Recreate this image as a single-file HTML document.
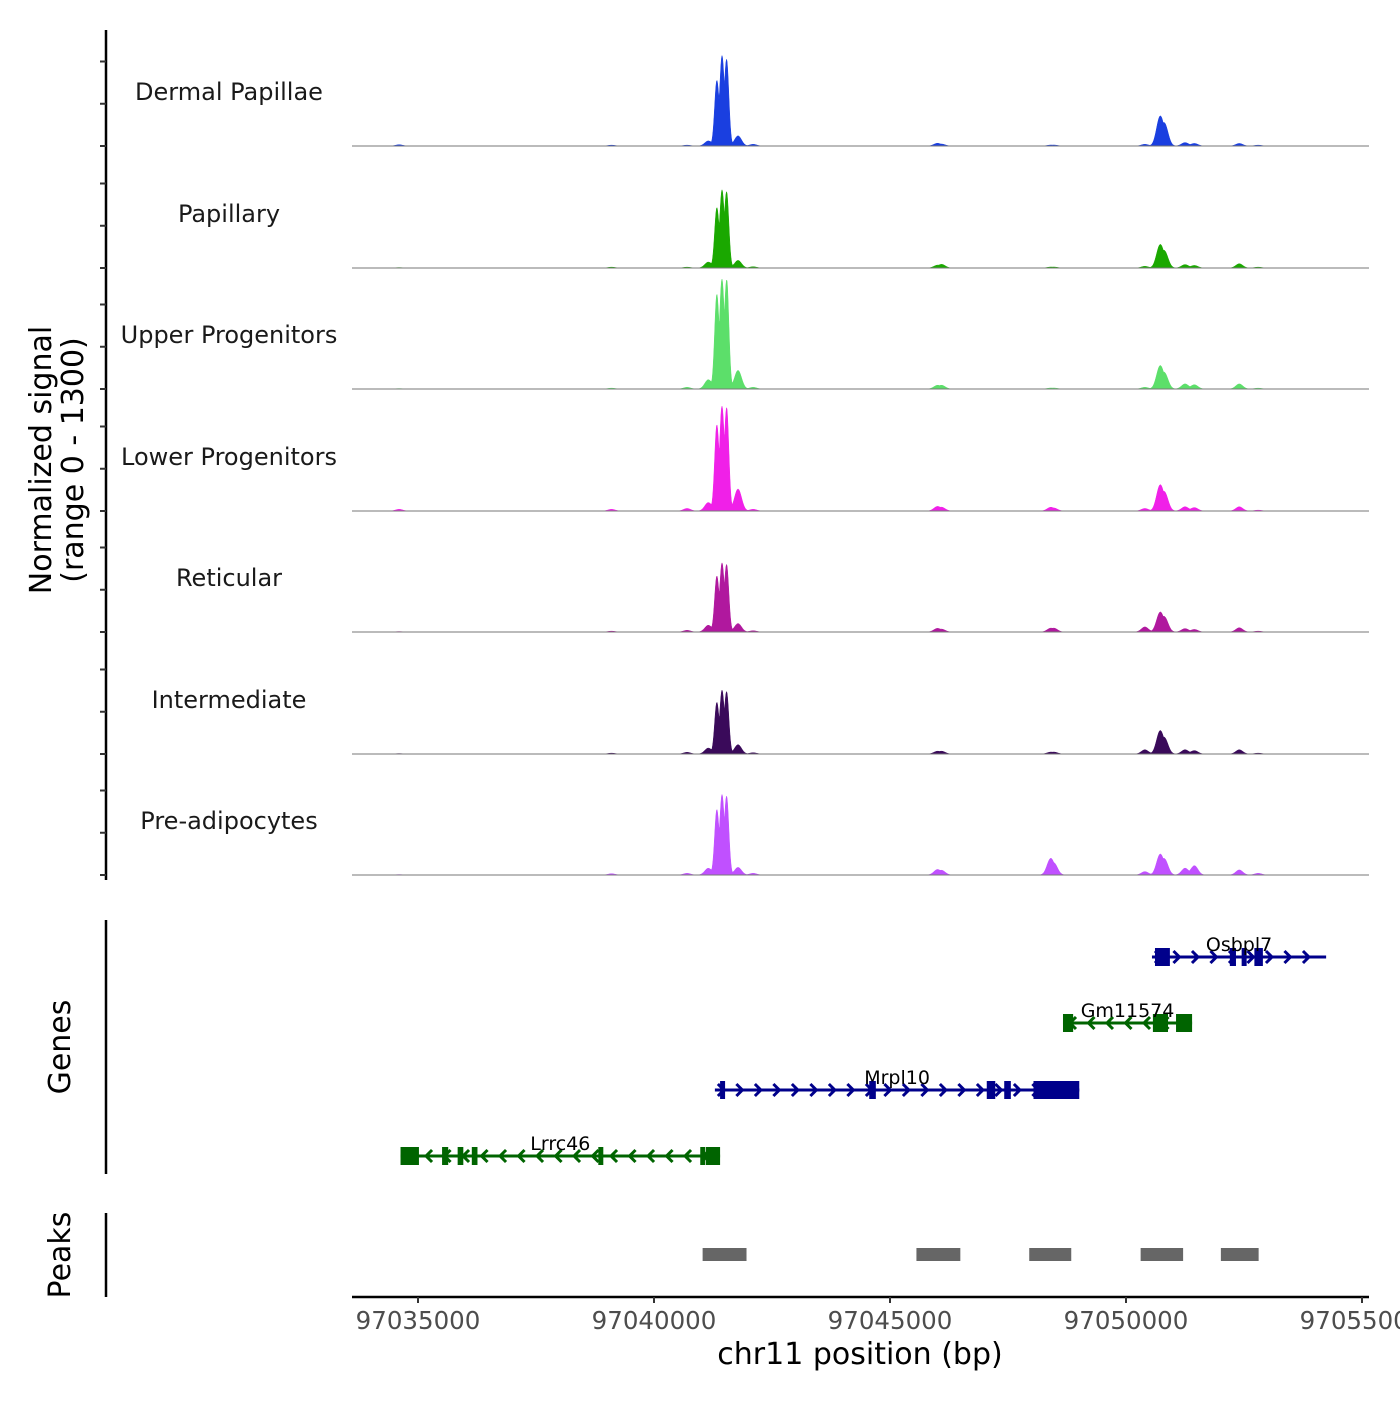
<!DOCTYPE html>
<html><head><meta charset="utf-8"><style>
html,body{margin:0;padding:0;background:#fff}
svg text{font-family:"DejaVu Sans","Liberation Sans",sans-serif}
</style></head><body>
<svg id="chart" width="1400" height="1400" xmlns="http://www.w3.org/2000/svg"></svg>
<script>
// ---- data ----
const trackNames = ["Dermal Papillae","Papillary","Upper Progenitors","Lower Progenitors","Reticular","Intermediate","Pre-adipocytes"];
const trackColors = ["#1a3fe0","#1aa800","#5cdf6a","#f020e8","#b0189e","#3a0a5a","#c050ff"];
// peak centers (bp) shared by all tracks
const peakCenters = [97034600,97039100,97040700,97041150,97041330,97041440,97041540,97041780,97042100,97046000,97046100,97048400,97048480,97050400,97050720,97050820,97051250,97051450,97052400,97052800];
// per-track peak heights (signal units, 0-1300)
const dermalHeights   = [15,10,10,60,760,1035,1000,120,20,30,20,10,10,20,330,240,40,30,30,10];
const papillaryHeights= [5,10,10,70,700,894,880,90,15,30,40,10,10,20,260,180,40,30,50,10];
const upperHeights    = [5,10,20,110,1100,1300,1290,220,20,40,40,10,10,20,260,170,60,50,60,10];
const lowerHeights    = [20,20,30,100,1000,1220,1200,260,20,50,40,40,30,30,290,200,50,40,50,10];
const reticularHeights= [5,10,20,80,650,790,780,100,15,40,30,40,40,60,220,160,40,30,50,10];
const intermedHeights = [5,10,20,70,600,730,720,110,15,30,30,20,20,50,260,170,50,40,50,10];
const preadipHeights  = [5,15,20,80,760,920,910,90,20,60,50,180,120,40,230,170,80,110,60,20];
const trackHeights = [dermalHeights,papillaryHeights,upperHeights,lowerHeights,reticularHeights,intermedHeights,preadipHeights];
const xTicks = [97035000,97040000,97045000,97050000,97055000];
// genes
const geneNames = ["Osbpl7","Gm11574","Mrpl10","Lrrc46"];
const geneStarts = [97050550,97048665,97041290,97034630];
const geneEnds = [97054240,97051400,97049010,97041400];
const geneStrands = [1,-1,1,-1];
const geneColors = ["#00008b","#006400","#00008b","#006400"];
const geneExons = [
 [[97050614,97050930],[97052200,97052330],[97052450,97052550],[97052720,97052900]],
 [[97048665,97048880],[97050570,97050890],[97051060,97051400]],
 [[97041400,97041480],[97044560,97044700],[97047050,97047230],[97047420,97047560],[97048040,97049010]],
 [[97034630,97035020],[97035510,97035640],[97035840,97035960],[97036140,97036260],[97038820,97038920],[97040980,97041080],[97041100,97041400]]
];
const peakRegionStarts = [97041030,97045560,97047950,97050310,97052010];
const peakRegionEnds   = [97041960,97046490,97048840,97051210,97052810];

// ---- scales ----
const X0=352, X1=1369;
function xs(bp){return 418 + (bp-97035000)*0.0472;}
const baselines=[146,268,389,511,632,754,875];
function ys(v,i){return baselines[i]-v*0.0845;}
const NS="http://www.w3.org/2000/svg";
const svg=document.getElementById("chart");
function el(tag,attrs,parent){const e=document.createElementNS(NS,tag);for(const k in attrs)e.setAttribute(k,attrs[k]);(parent||svg).appendChild(e);return e;}

let a=el("line",{x1:106,y1:30,x2:106,y2:880,stroke:"#000","stroke-width":2.5});


baselines.forEach((b,i)=>{
  [0,500,1000].forEach(v=>{
    const t=el("line",{x1:100,x2:106,y1:ys(v,i),y2:ys(v,i),stroke:"#333","stroke-width":2});
    
    
  });
});
let yt=el("text",{x:0,y:0,transform:"translate(58,460) rotate(-90)","text-anchor":"middle","font-size":30,fill:"#000"});


el("tspan",{x:0,dy:-7},yt).textContent="Normalized signal";
el("tspan",{x:0,dy:32},yt).textContent="(range 0 - 1300)";

trackNames.forEach((name,i)=>{
  const lab=el("text",{x:229,y:baselines[i]-46,"text-anchor":"middle","font-size":24,fill:"#1a1a1a"});
  lab.textContent=name;
  
  
  const hs=trackHeights[i];
  let d="M"+X0+","+baselines[i];
  for(let px=X0;px<=X1;px+=0.5){
    const bp=97035000+(px-418)/0.0472;
    let v=0, s=0;
    peakCenters.forEach((c,k)=>{const w=(k>=4&&k<=6)?46:75;const g=hs[k]*Math.exp(-((bp-c)*(bp-c))/(2*w*w));v=Math.max(v,g);s+=g;});
    v=0.75*v+0.25*Math.min(s,1300);
    d+=" L"+px+","+ys(Math.min(v,1300),i).toFixed(2);
  }
  d+=" L"+X1+","+baselines[i]+" Z";
  const p=el("path",{d:d,fill:trackColors[i],stroke:trackColors[i],"stroke-width":0.5});
  
  
  const bl=el("line",{x1:X0,x2:X1,y1:baselines[i],y2:baselines[i],stroke:"#777","stroke-width":1});
  
  
});

let ga=el("line",{x1:106,y1:920,x2:106,y2:1174,stroke:"#000","stroke-width":2.5});


let gt=el("text",{x:0,y:0,transform:"translate(70,1047) rotate(-90)","text-anchor":"middle","font-size":30,fill:"#000"});
gt.textContent="Genes";


const rowY=[957,1023,1090,1156];
geneNames.forEach((g,i)=>{
  const y=rowY[i], c=geneColors[i];
  const grp=el("g",{});
  
  
  const xa=xs(geneStarts[i]), xb=xs(geneEnds[i]);
  el("line",{x1:xa,x2:xb,y1:y,y2:y,stroke:c,"stroke-width":3},grp);
  for(let x=xa+8;x<xb-2;x+=18.5){
    const s=geneStrands[i];
    el("polyline",{points:`${x-5*s},${y-6} ${x+1*s},${y} ${x-5*s},${y+6}`,fill:"none",stroke:c,"stroke-width":3},grp);
  }
  geneExons[i].forEach(e=>{
    const x1=xs(e[0]),x2=xs(e[1]);
    el("rect",{x:x1,y:y-9,width:Math.max(x2-x1,5),height:18,fill:c},grp);
  });
  const t=el("text",{x:xs((geneStarts[i]+geneEnds[i])/2),y:y-6,"text-anchor":"middle","font-size":19,fill:"#000"},grp);
  t.textContent=g;
});

let pa=el("line",{x1:106,y1:1213,x2:106,y2:1297,stroke:"#000","stroke-width":2.5});


let pt=el("text",{x:0,y:0,transform:"translate(70,1255) rotate(-90)","text-anchor":"middle","font-size":30,fill:"#000"});
pt.textContent="Peaks";


peakRegionStarts.forEach((s,i)=>{
  const r=el("rect",{x:xs(s),y:1248,width:xs(peakRegionEnds[i])-xs(s),height:13,fill:"#666"});
  
  
});

let xa=el("line",{x1:X0,x2:X1,y1:1297,y2:1297,stroke:"#000","stroke-width":2.5});


xTicks.forEach(v=>{
  const t=el("line",{x1:xs(v),x2:xs(v),y1:1297,y2:1303,stroke:"#333","stroke-width":2});
  
  
  const l=el("text",{x:xs(v),y:1329,"text-anchor":"middle","font-size":24.5,fill:"#4d4d4d"});
  l.textContent=v;
  
  
});
let xt=el("text",{x:860,y:1364,"text-anchor":"middle","font-size":30,fill:"#000"});
xt.textContent="chr11 position (bp)";


</script>
</body></html>
